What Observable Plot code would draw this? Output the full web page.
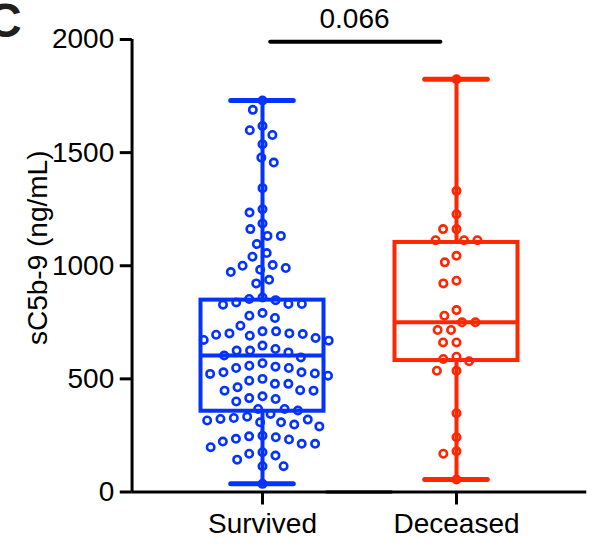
<!DOCTYPE html>
<html>
<head>
<meta charset="utf-8">
<script src="https://cdn.jsdelivr.net/npm/d3@7"></script>
<script src="https://cdn.jsdelivr.net/npm/@observablehq/plot@0.6"></script>
<style>
html, body { margin: 0; padding: 0; background: #fff; }
#wrap { position: relative; width: 592px; height: 556px; overflow: hidden; font-family: "Liberation Sans", Arial, Helvetica, sans-serif; }
#panel { position: absolute; left: -13px; top: -3px; font-weight: bold; font-size: 48px; line-height: 48px; color: #231f20; }
</style>
</head>
<body>
<div id="wrap"><div id="panel">C</div></div>
<script>
// ---- data ----
const groups = ["Survived", "Deceased"];
const colors = ["#0433ff", "#ff2600"];

const survived = [1730, 1689, 1618, 1599, 1578, 1537, 1478, 1456, 1343, 1250, 1235, 1187, 1162, 1132, 1132, 1096, 1056, 1040, 1003, 1000, 990, 982, 972, 938, 922,
  860, 853, 848, 838, 831, 831, 828,
  791, 779, 769,
  735, 710, 710, 701, 701, 698, 695, 691, 681, 672, 669,
  647, 632, 625, 625, 617,
  603, 595,
  569, 558, 554, 548, 548, 529, 529, 524, 522, 514, 500,
  492, 478, 478, 463, 450, 448, 448, 423, 415, 411, 400,
  367, 367, 360, 345, 333, 327, 323, 320, 316, 308, 308, 298, 290,
  249, 246, 242, 235, 232, 223, 213, 213, 198, 176, 169, 161, 143, 114, 114, 36];

const deceased = [1824, 1331, 1228, 1162, 1162, 1113, 1113, 1113, 1044, 1015, 934, 922, 804, 779, 750, 750,
  716, 716, 661, 661, 598, 588, 578, 536, 536, 348, 242, 180, 169, 55];

// box statistics (whiskers = min to max)
const mins    = [36, 55];
const q1s     = [357, 581];
const medians = [603, 750];
const q3s     = [848, 1103];
const maxs    = [1730, 1824];

const yTicks = [0, 500, 1000, 1500, 2000];
const yLabel = "sC5b-9 (ng/mL)";
const pValue = "0.066";
const bracketY = 1990;

// ---- layout ----
const W = 592, H = 556;
const mL = 131.7, mR = 5, mT = 39;
const axisBottomPx = 491.5;          // pixel row of y = 0
const tickLen = 13;                  // category tick length (px)
const mB = H - axisBottomPx - tickLen;
const yPerPx = 2000 / (axisBottomPx - mT);
const yLow = -tickLen * yPerPx;      // frame extends below 0 by one tick length
const padOuter = 0.171;
const step = (W - mL - mR) / (2 + 2 * padOuter);
const half = step / 2;
const outer = padOuter * step;       // distance from frame edge to first facet
const boxHalf = 61.7, capHalf = 31.5;
const font = "'Liberation Sans', Arial, Helvetica, sans-serif";

// ---- tables built from the arrays ----
const points = [
  ...survived.map(v => ({group: groups[0], value: v})),
  ...deceased.map(v => ({group: groups[1], value: v}))
];
const stats = groups.map((g, i) => ({group: g, min: mins[i], q1: q1s[i], median: medians[i], q3: q3s[i], max: maxs[i], zero: 0, tickEnd: yLow}));
const annot = [{group: groups[0], y: bracketY, label: pValue}];
const labelRow = [{group: groups[0], label: yLabel, lo: 0, hi: 2000}];

const chart = Plot.plot({
  width: W, height: H,
  marginLeft: mL, marginRight: mR, marginTop: mT, marginBottom: mB,
  style: {fontFamily: font, fontSize: "28px", color: "#000", background: "#fff", overflow: "visible"},
  fx: {domain: groups, paddingInner: 0, paddingOuter: padOuter},
  y: {domain: [yLow, 2000]},
  color: {domain: groups, range: colors},
  marks: [
    Plot.axisY({ticks: yTicks, tickFormat: d => String(d), tickSize: 12, tickPadding: 6, strokeWidth: 3, fontSize: 28, label: null, dx: -outer}),
    Plot.axisFx({anchor: "bottom", tickSize: 0, tickPadding: 8, fontSize: 28, label: null}),
    // axis lines and category ticks
    Plot.ruleX(labelRow, {x: null, fx: "group", y1: "lo", y2: "hi", strokeWidth: 3, dx: -(half + outer)}),
    Plot.ruleY([0], {strokeWidth: 3, insetLeft: -outer, insetRight: -outer}),
    Plot.ruleX(stats, {x: null, fx: "group", y1: "tickEnd", y2: "zero", stroke: "#000", strokeWidth: 3}),
    Plot.text(labelRow, {fx: "group", text: "label", frameAnchor: "left", textAnchor: "middle", rotate: -90, lineAnchor: "top", dx: -138, dy: -24.5, fontSize: 28, fill: "#000"}),
    // whiskers
    Plot.ruleX(stats, {x: null, fx: "group", y1: "q3", y2: "max", stroke: "group", strokeWidth: 4}),
    Plot.ruleX(stats, {x: null, fx: "group", y1: "min", y2: "q1", stroke: "group", strokeWidth: 4}),
    Plot.tickY(stats, {fx: "group", y: "max", stroke: "group", strokeWidth: 5, strokeLinecap: "round", insetLeft: half - capHalf, insetRight: half - capHalf}),
    Plot.tickY(stats, {fx: "group", y: "min", stroke: "group", strokeWidth: 5, strokeLinecap: "round", insetLeft: half - capHalf, insetRight: half - capHalf}),
    // box
    Plot.rect(stats, {fx: "group", y1: "q1", y2: "q3", fill: "none", stroke: "group", strokeWidth: 4, insetLeft: half - boxHalf, insetRight: half - boxHalf}),
    Plot.tickY(stats, {fx: "group", y: "median", stroke: "group", strokeWidth: 4, insetLeft: half - boxHalf, insetRight: half - boxHalf}),
    // points
    Plot.dot(points, Plot.dodgeX({anchor: "middle", padding: 6}, {fx: "group", y: "value", r: 3.7, stroke: "group", fill: "none", strokeWidth: 2.6})),
    // significance bracket
    Plot.ruleY(annot, {fx: "group", y: "y", strokeWidth: 4, strokeLinecap: "round", insetLeft: half + 8, insetRight: -half + 15.8}),
    Plot.text(annot, {fx: "group", y: "y", text: "label", frameAnchor: "right", textAnchor: "middle", dx: -5, dy: -14, lineAnchor: "bottom", fontSize: 28, fill: "#000"})
  ]
});
document.getElementById("wrap").prepend(chart);
</script>
</body>
</html>
